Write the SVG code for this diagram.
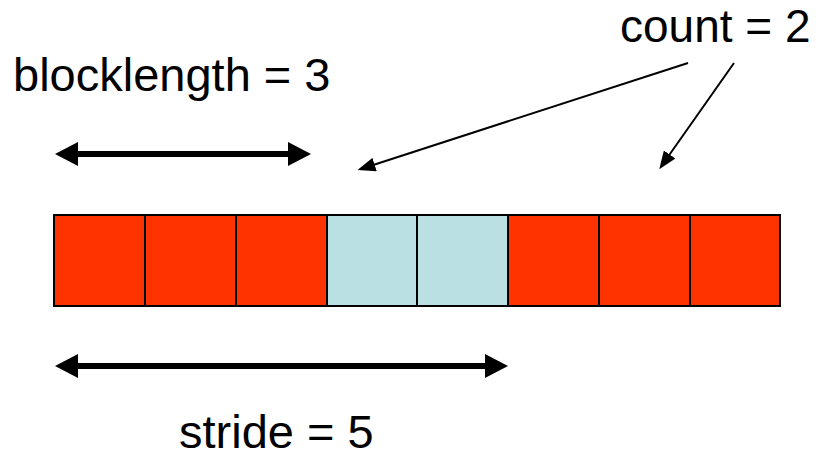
<svg xmlns="http://www.w3.org/2000/svg" width="819" height="457" viewBox="0 0 819 457">
<style>
.lbl{font-family:"Liberation Sans",Arial,sans-serif;font-size:47px;fill:#000}
.red{fill:#FF3300;stroke:#000;stroke-width:2}
.blue{fill:#BBE0E3;stroke:#000;stroke-width:2}
.thick{stroke:#000;stroke-width:6;fill:none}
.thin{stroke:#000;stroke-width:2;fill:none}
</style>
<defs>
<marker id="bigHead" viewBox="0 0 23 24" markerWidth="23" markerHeight="24" refX="8" refY="12" orient="auto-start-reverse" markerUnits="userSpaceOnUse">
<path d="M0,0 L23,12 L0,24 z" fill="#000"/>
</marker>
<marker id="smallHead" viewBox="0 0 18 14" markerWidth="18" markerHeight="14" refX="8" refY="7" orient="auto" markerUnits="userSpaceOnUse">
<path d="M0,0 L18,7 L0,14 z" fill="#000"/>
</marker>
</defs>
<rect width="819" height="457" fill="#fff"/>
<g id="cells">
<rect id="cell1" class="red" x="54" y="215" width="91" height="91"/>
<rect id="cell2" class="red" x="145" y="215" width="91" height="91"/>
<rect id="cell3" class="red" x="236" y="215" width="91" height="91"/>
<rect id="cell4" class="blue" x="327" y="215" width="90" height="91"/>
<rect id="cell5" class="blue" x="417" y="215" width="91" height="91"/>
<rect id="cell6" class="red" x="508" y="215" width="91" height="91"/>
<rect id="cell7" class="red" x="599" y="215" width="91" height="91"/>
<rect id="cell8" class="red" x="690" y="215" width="90" height="91"/>
</g>
<g id="label-blocklength"><text class="lbl" x="13" y="91">blocklength = 3</text></g>
<g id="label-count"><text class="lbl" x="620" y="42" style="font-size:46px">count = 2</text></g>
<g id="label-stride"><text class="lbl" x="179" y="448">stride = 5</text></g>
<g id="connectors">
<line class="thick" x1="70" y1="154" x2="296" y2="154" marker-start="url(#bigHead)" marker-end="url(#bigHead)"/>
<line class="thick" x1="70" y1="366" x2="493" y2="366" marker-start="url(#bigHead)" marker-end="url(#bigHead)"/>
<line class="thin" x1="688" y1="63" x2="367" y2="167" marker-end="url(#smallHead)"/>
<line class="thin" x1="734" y1="63" x2="665" y2="161" marker-end="url(#smallHead)"/>
</g>
</svg>
